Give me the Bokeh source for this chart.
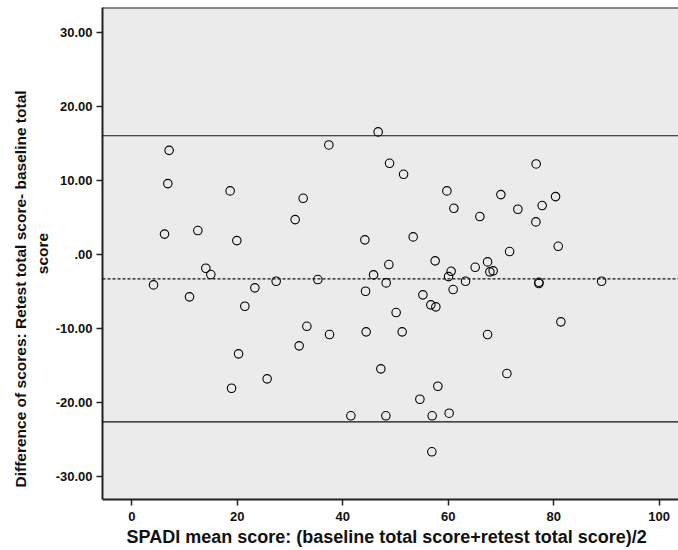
from bokeh.plotting import figure
from bokeh.models import Range1d, Span, Title, FixedTicker
from bokeh.embed import file_html
from bokeh.resources import INLINE

# mean score (x) and difference (y) for each subject
mean_score = [4.12, 10.94, 7.07, 6.83, 6.20, 12.52, 18.64, 19.91, 14.03, 14.98,
              23.33, 27.37, 35.27, 30.97, 32.49, 37.36, 46.71, 48.87, 44.19, 48.74,
              45.84, 44.32, 48.23, 51.53, 59.74, 61.07, 69.98, 66.00, 73.20, 76.67,
              77.81, 80.35, 76.62, 80.85, 53.35, 57.52, 60.55, 60.06, 63.28, 60.93,
              55.19, 65.11, 67.46, 67.89, 68.52, 71.63, 77.19, 77.19, 89.08, 21.43,
              50.12, 33.19, 37.49, 31.73, 44.43, 51.26, 20.24, 25.66, 18.91, 47.22,
              41.53, 48.17, 56.70, 57.65, 67.46, 81.36, 71.12, 58.03, 54.62, 56.95,
              60.17, 56.89]
difference = [-4.12, -5.74, 14.08, 9.58, 2.75, 3.23, 8.59, 1.87, -1.87, -2.72,
              -4.52, -3.63, -3.40, 4.71, 7.59, 14.81, 16.57, 12.33, 1.97, -1.37,
              -2.77, -4.98, -3.85, 10.84, 8.59, 6.24, 8.09, 5.12, 6.11, 12.24,
              6.61, 7.82, 4.40, 1.10, 2.37, -0.87, -2.28, -3.00, -3.63, -4.75,
              -5.47, -1.74, -1.01, -2.36, -2.22, 0.39, -3.77, -3.94, -3.63, -7.01,
              -7.86, -9.72, -10.84, -12.37, -10.47, -10.47, -13.45, -16.83, -18.10, -15.48,
              -21.83, -21.83, -6.82, -7.09, -10.84, -9.12, -16.11, -17.83, -19.59, -21.83,
              -21.48, -26.70]

mean_difference = -3.31
upper_limit = 16.05
lower_limit = -22.64

x_tick_values = [0, 20, 40, 60, 80, 100]
x_tick_labels = ["0", "20", "40", "60", "80", "100"]
y_tick_values = [30, 20, 10, 0, -10, -20, -30]
y_tick_labels = ["30.00", "20.00", "10.00", ".00", "-10.00", "-20.00", "-30.00"]

x_title = "SPADI mean score: (baseline total score+retest total score)/2"
y_title_line1 = "Difference of scores: Retest total score- baseline total"
y_title_line2 = "score"

FONT = "Liberation Sans"

p = figure(width=678, height=550, output_backend="svg", toolbar_location=None,
           x_range=Range1d(-5.56, 103.66), y_range=Range1d(-33.15, 33.40),
           min_border_left=102, min_border_right=0, min_border_top=7, min_border_bottom=51)
p.background_fill_color = "#ebebeb"
p.border_fill_color = "white"
p.outline_line_color = None
p.xgrid.visible = False
p.ygrid.visible = False

for ax in (p.xaxis[0], p.yaxis[0]):
    ax.axis_line_color = "#222222"
    ax.axis_line_width = 2
    ax.major_tick_line_color = "#222222"
    ax.major_tick_line_width = 1.5
    ax.major_tick_out = 6
    ax.major_tick_in = 0
    ax.minor_tick_line_color = None
    ax.major_label_text_font = FONT
    ax.major_label_text_font_style = "bold"
    ax.major_label_text_font_size = "13px"
    ax.major_label_text_color = "#111111"
    ax.major_label_standoff = 4
p.xaxis.major_label_standoff = 6

p.xaxis.ticker = FixedTicker(ticks=x_tick_values)
p.xaxis.major_label_overrides = dict(zip(x_tick_values, x_tick_labels))
p.yaxis.ticker = FixedTicker(ticks=y_tick_values)
p.yaxis.major_label_overrides = dict(zip(y_tick_values, y_tick_labels))

# top frame line
p.add_layout(Span(location=33.40, dimension="width", line_color="#222222", line_width=2))

for loc, dash in ((upper_limit, "solid"), (lower_limit, "solid"), (mean_difference, "3 2")):
    p.add_layout(Span(location=loc, dimension="width", line_color="#111111",
                      line_width=1.2, line_dash=dash))

p.scatter(mean_score, difference, marker="circle", size=8.5, fill_color=None,
          line_color="black", line_width=1.1)

title_style = dict(text_font=FONT, text_font_style="bold", text_color="#111111")
p.add_layout(Title(text=y_title_line2, text_font_size="15.5px", standoff=4, align="center",
                   **title_style), "left")
p.add_layout(Title(text=y_title_line1, text_font_size="15.5px", standoff=2, align="left",
                   offset=12, **title_style), "left")
p.add_layout(Title(text=x_title, text_font_size="18px", standoff=2, align="left",
                   offset=24, **title_style), "below")

open("out.html", "w").write(file_html(p, INLINE))
